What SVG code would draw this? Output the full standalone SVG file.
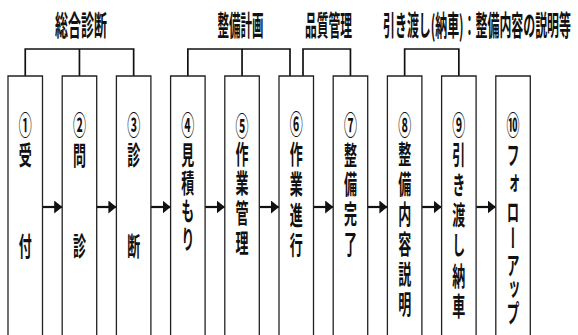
<svg xmlns="http://www.w3.org/2000/svg" width="578" height="335" viewBox="0 0 578 335">
<style>
.box{fill:#fff;stroke:#222;stroke-width:1.3}
.br{fill:none;stroke:#111;stroke-width:1.7}
.ar{stroke:#111;stroke-width:2.2;fill:none}
.hd{font-family:"Noto Sans CJK JP","Noto Sans",sans-serif;font-weight:700;font-size:28px;fill:#111;text-anchor:middle}
.vt{font-family:"Noto Sans CJK JP","Noto Sans",sans-serif;font-weight:700;font-size:26px;fill:#111;text-anchor:middle;writing-mode:vertical-rl}
</style>
<defs>
<marker id="ah" viewBox="0 0 8 13" refX="8" refY="6.5" markerWidth="8" markerHeight="13" markerUnits="userSpaceOnUse" orient="auto">
<path d="M0,0 L8,6.5 L0,13 Z" fill="#111"/>
</marker>
</defs>
<rect width="578" height="335" fill="#fff"/>

<g id="headers">
<text class="hd" transform="translate(81 36) scale(0.45 1)" x="0" y="0" textLength="115.6" lengthAdjust="spacingAndGlyphs">総合診断</text>
<text class="hd" transform="translate(240.5 36) scale(0.45 1)" x="0" y="0" textLength="102.2" lengthAdjust="spacingAndGlyphs">整備計画</text>
<text class="hd" transform="translate(328.5 36) scale(0.45 1)" x="0" y="0" textLength="104.4" lengthAdjust="spacingAndGlyphs">品質管理</text>
<text class="hd" transform="translate(477 36) scale(0.43 1)" x="0" y="0" textLength="437" lengthAdjust="spacingAndGlyphs">引き渡し(納車)：整備内容の説明等</text>
</g>

<g id="connectors">
<path class="br" d="M25.25,76 V49 H133.65 V76 M79.45,49 V76"/>
<path class="br" d="M187.85,76 V49 H290 V76 M242.05,49 V76"/>
<path class="br" d="M303,76 V49 H350.45 V76"/>
<path class="br" d="M404.65,76 V49 H458.85 V76"/>
<line class="ar" x1="42.5" y1="207" x2="62.2" y2="207" marker-end="url(#ah)"/>
<line class="ar" x1="96.7" y1="207" x2="116.4" y2="207" marker-end="url(#ah)"/>
<line class="ar" x1="150.9" y1="207" x2="170.6" y2="207" marker-end="url(#ah)"/>
<line class="ar" x1="205.1" y1="207" x2="224.8" y2="207" marker-end="url(#ah)"/>
<line class="ar" x1="259.3" y1="207" x2="279" y2="207" marker-end="url(#ah)"/>
<line class="ar" x1="313.5" y1="207" x2="333.2" y2="207" marker-end="url(#ah)"/>
<line class="ar" x1="367.7" y1="207" x2="387.4" y2="207" marker-end="url(#ah)"/>
<line class="ar" x1="421.9" y1="207" x2="441.6" y2="207" marker-end="url(#ah)"/>
<line class="ar" x1="476.1" y1="207" x2="495.8" y2="207" marker-end="url(#ah)"/>
</g>

<g id="n1">
<path class="box" d="M8,340 V76 H42.5 V340"/>
<g transform="translate(25.25 0) scale(0.5 1)">
<text class="vt" x="0" y="125">①</text><text class="vt" x="0" y="155">受</text><text class="vt" x="0" y="246">付</text>
</g></g>
<g id="n2">
<path class="box" d="M62.2,340 V76 H96.7 V340"/>
<g transform="translate(79.45 0) scale(0.5 1)">
<text class="vt" x="0" y="125">②</text><text class="vt" x="0" y="155">問</text><text class="vt" x="0" y="246">診</text>
</g></g>
<g id="n3">
<path class="box" d="M116.4,340 V76 H150.9 V340"/>
<g transform="translate(133.65 0) scale(0.5 1)">
<text class="vt" x="0" y="125">③</text><text class="vt" x="0" y="155">診</text><text class="vt" x="0" y="246">断</text>
</g></g>
<g id="n4">
<path class="box" d="M170.6,340 V76 H205.1 V340"/>
<g transform="translate(187.85 0) scale(0.5 1)">
<text class="vt" x="0" y="125">④</text><text class="vt" x="0" y="155">見</text><text class="vt" x="0" y="183">積</text><text class="vt" x="0" y="211">も</text><text class="vt" x="0" y="239">り</text>
</g></g>
<g id="n5">
<path class="box" d="M224.8,340 V76 H259.3 V340"/>
<g transform="translate(242.05 0) scale(0.5 1)">
<text class="vt" x="0" y="126">⑤</text><text class="vt" x="0" y="154">作</text><text class="vt" x="0" y="183">業</text><text class="vt" x="0" y="213">管</text><text class="vt" x="0" y="243">理</text>
</g></g>
<g id="n6">
<path class="box" d="M279,340 V76 H313.5 V340"/>
<g transform="translate(296.25 0) scale(0.5 1)">
<text class="vt" x="0" y="124">⑥</text><text class="vt" x="0" y="154">作</text><text class="vt" x="0" y="184">業</text><text class="vt" x="0" y="215">進</text><text class="vt" x="0" y="245">行</text>
</g></g>
<g id="n7">
<path class="box" d="M333.2,340 V76 H367.7 V340"/>
<g transform="translate(350.45 0) scale(0.5 1)">
<text class="vt" x="0" y="125">⑦</text><text class="vt" x="0" y="155">整</text><text class="vt" x="0" y="184">備</text><text class="vt" x="0" y="214">完</text><text class="vt" x="0" y="244">了</text>
</g></g>
<g id="n8">
<path class="box" d="M387.4,340 V76 H421.9 V340"/>
<g transform="translate(404.65 0) scale(0.5 1)">
<text class="vt" x="0" y="125">⑧</text><text class="vt" x="0" y="154">整</text><text class="vt" x="0" y="184">備</text><text class="vt" x="0" y="214">内</text><text class="vt" x="0" y="244">容</text><text class="vt" x="0" y="274">説</text><text class="vt" x="0" y="304">明</text>
</g></g>
<g id="n9">
<path class="box" d="M441.6,340 V76 H476.1 V340"/>
<g transform="translate(458.85 0) scale(0.5 1)">
<text class="vt" x="0" y="125">⑨</text><text class="vt" x="0" y="155">引</text><text class="vt" x="0" y="185">き</text><text class="vt" x="0" y="215">渡</text><text class="vt" x="0" y="245">し</text><text class="vt" x="0" y="276">納</text><text class="vt" x="0" y="306">車</text>
</g></g>
<g id="n10">
<path class="box" d="M495.8,340 V76 H530.3 V340"/>
<g transform="translate(513.05 0) scale(0.5 1)">
<text class="vt" x="0" y="125">⑩</text><text class="vt" x="0" y="155">フ</text><text class="vt" x="0" y="183">ォ</text><text class="vt" x="0" y="212">ロ</text><text class="vt" x="0" y="238">ー</text><text class="vt" x="0" y="265">ア</text><text class="vt" x="0" y="289">ッ</text><text class="vt" x="0" y="313">プ</text>
</g></g>
</svg>
